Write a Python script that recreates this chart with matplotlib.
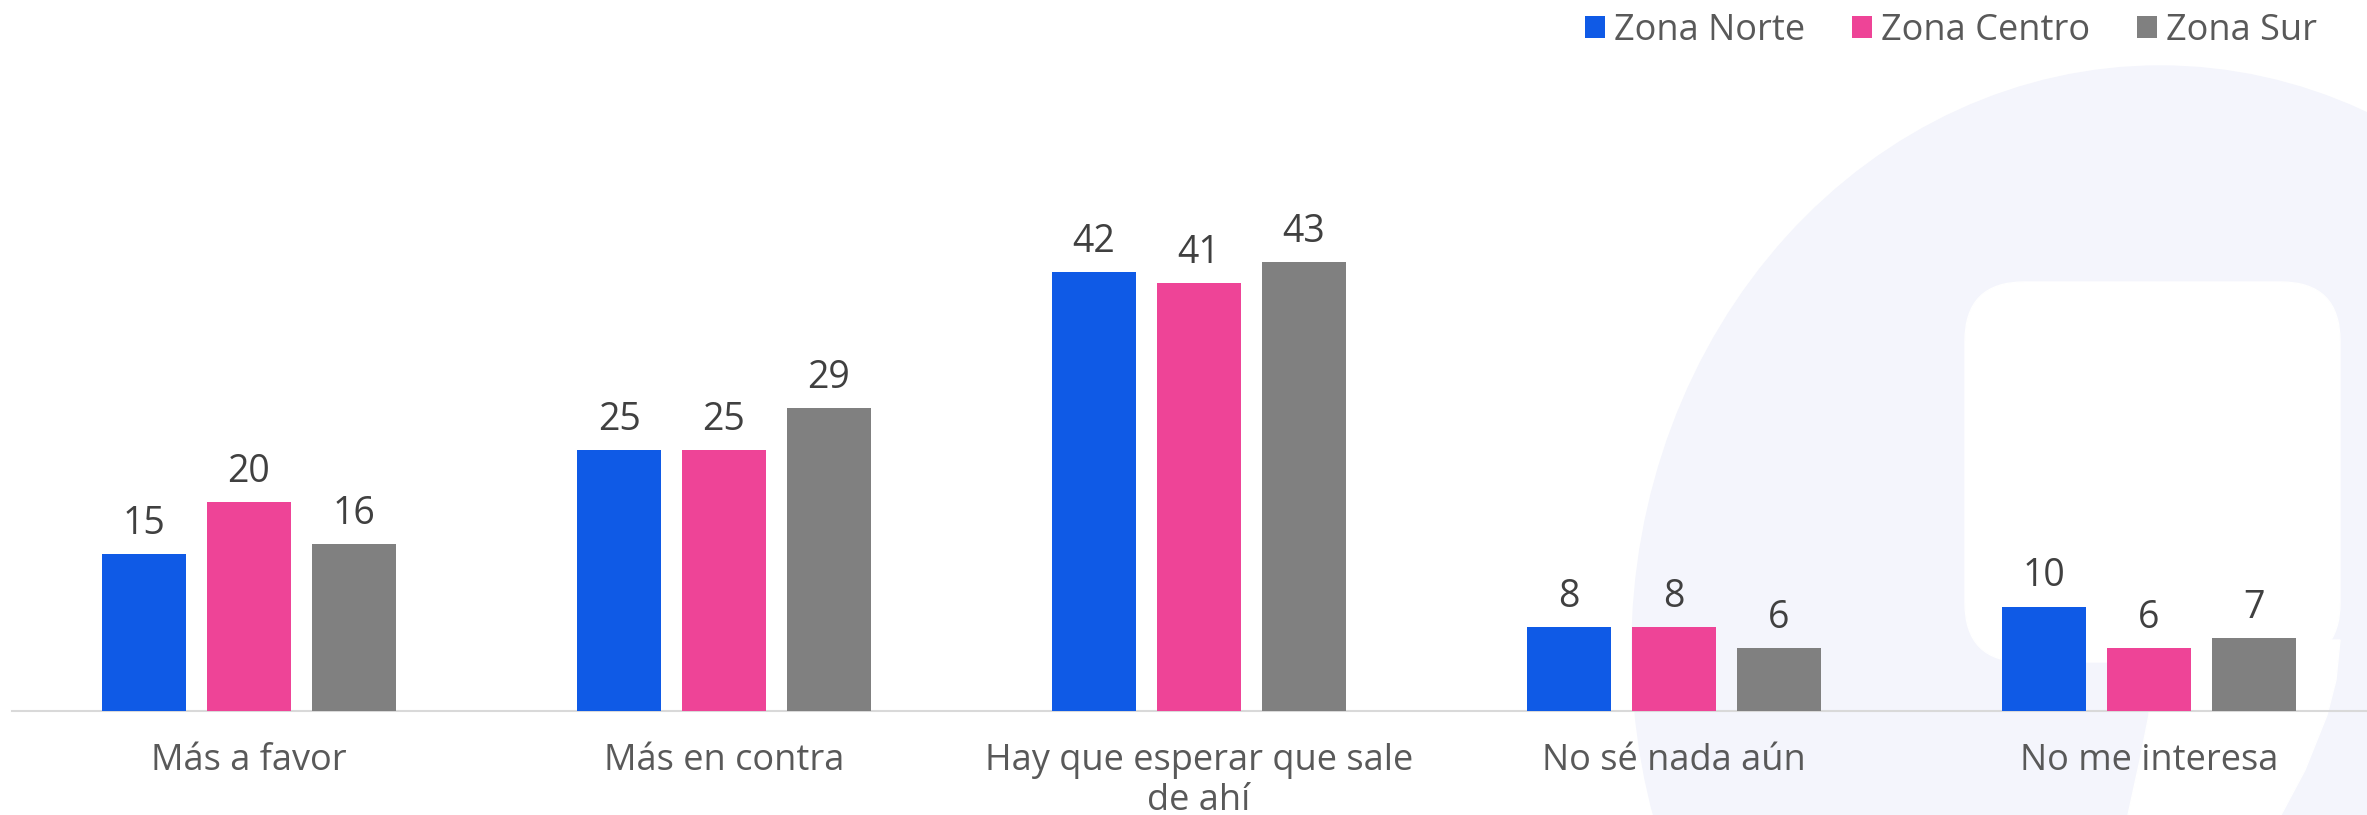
import matplotlib
matplotlib.use("Agg")
import matplotlib.pyplot as plt
import numpy as np
from matplotlib.patches import Ellipse, FancyBboxPatch, Polygon

plt.rcParams['font.family'] = ['Open Sans', 'DejaVu Sans']

# data
categories = ["Más a favor", "Más en contra", "Hay que esperar que sale\nde ahí",
              "No sé nada aún", "No me interesa"]
zonas = ["Zona Norte", "Zona Centro", "Zona Sur"]
norte = [15, 25, 42, 8, 10]
centro = [20, 25, 41, 8, 6]
sur = [16, 29, 43, 6, 7]
colores = ["#0F5AE6", "#EE4497", "#808080"]

W, H = 2367, 815
fig = plt.figure(figsize=(W / 100, H / 100), dpi=100)
fig.patch.set_facecolor("white")

# background watermark (pixel coords from top-left -> figure fraction)
def fx(px):
    return px / W

def fy(py):
    return 1 - py / H

lav = "#F4F5FC"
fig.patches.append(Ellipse((fx(2160), fy(650)), 2 * 528 / W, 2 * 584 / H,
                           transform=fig.transFigure, color=lav, zorder=-10))
fig.patches.append(FancyBboxPatch((fx(1965), fy(662)), (2340 - 1965) / W, (662 - 282) / H,
                                  boxstyle="round,pad=0,rounding_size=0.025",
                                  mutation_aspect=W / H,
                                  transform=fig.transFigure, color="white", zorder=-9))
pts = [(2150, 640), (2340, 640), (2336, 680), (2327, 715), (2305, 770), (2281, 815),
       (2128, 815), (2140, 760), (2149, 715)]
fig.patches.append(Polygon([(fx(a), fy(b)) for a, b in pts], closed=True,
                           transform=fig.transFigure, color="white", zorder=-9))

ax = fig.add_axes([11.5 / W, 104 / H, 1 - 11.5 / W, 711 / H])
ax.set_facecolor("none")

x = np.arange(len(categories))
ancho = 0.175
paso = 0.221
for j, (serie, nombre) in enumerate(zip([norte, centro, sur], zonas)):
    barras = ax.bar(x + (j - 1) * paso, serie, width=ancho, color=colores[j], label=nombre, zorder=3)
    ax.bar_label(barras, padding=8, fontsize=27, color="#404040")

ax.set_xlim(-0.5, -0.5 + (W - 11.5) / 475)
ax.set_ylim(0, 68.1)
ax.set_xticks(x)
ax.set_xticklabels(categories, fontsize=26, color="#595959", linespacing=1.15)
ax.tick_params(axis="x", length=0, pad=23)
ax.set_yticks([])
for s in ["left", "top", "right"]:
    ax.spines[s].set_visible(False)
ax.spines["bottom"].set_color("#D9D9D9")
ax.spines["bottom"].set_linewidth(1.5)

fig.legend(loc="upper right", bbox_to_anchor=(1 - 50 / W, 1 - 13 / H), ncol=3, frameon=False,
           fontsize=26, labelcolor="#595959", handlelength=0.55, handleheight=0.55,
           handletextpad=0.25, columnspacing=1.3, borderaxespad=0, borderpad=0)

fig.savefig("out.png", dpi=100, facecolor="white")
